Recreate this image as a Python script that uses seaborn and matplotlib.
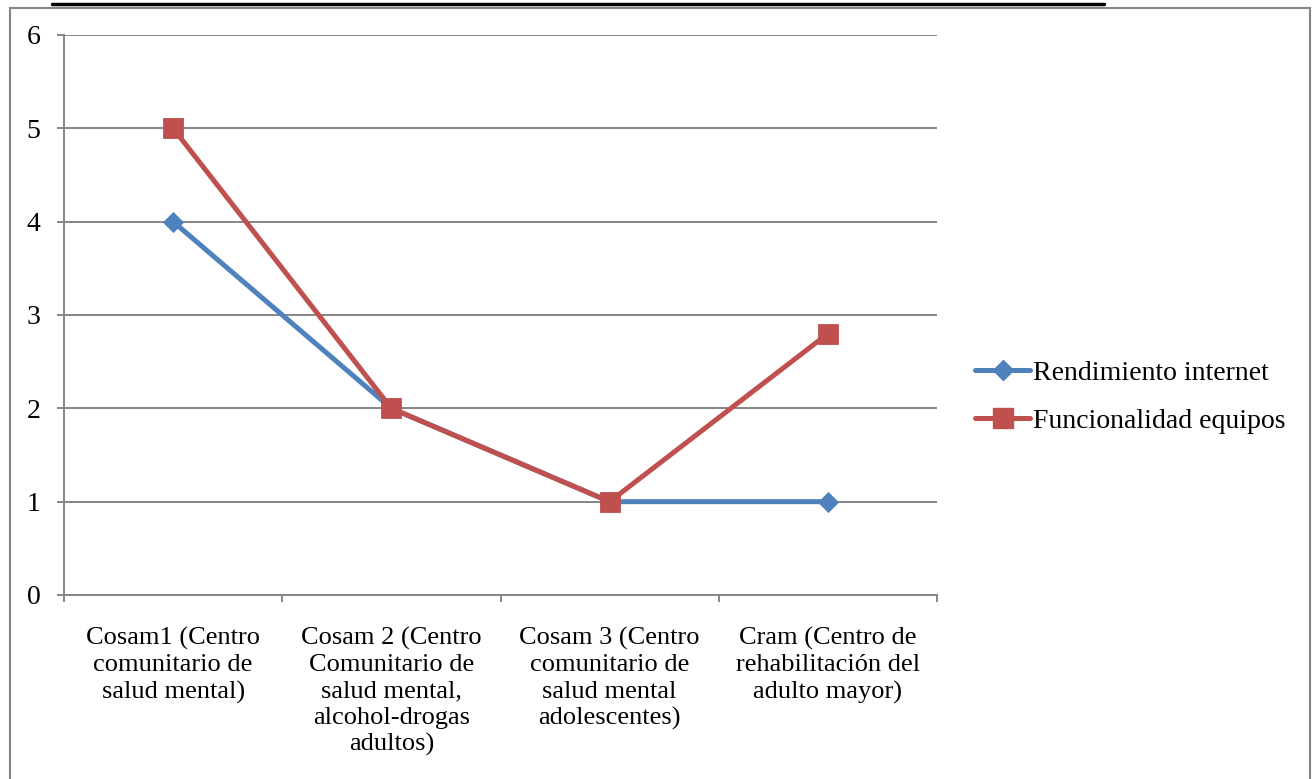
import matplotlib
matplotlib.use("Agg")
import matplotlib.pyplot as plt
from matplotlib.lines import Line2D
from matplotlib.patches import Rectangle
import seaborn as sns
import pandas as pd

categories = [
    "Cosam1 (Centro\ncomunitario de\nsalud mental)",
    "Cosam 2 (Centro\nComunitario de\nsalud mental,\nalcohol-drogas\nadultos)",
    "Cosam 3 (Centro\ncomunitario de\nsalud mental\nadolescentes)",
    "Cram (Centro de\nrehabilitación del\nadulto mayor)",
]
rendimiento_internet = [4, 2, 1, 1]
funcionalidad_equipos = [5, 2, 1, 2.8]
series_names = ["Rendimiento internet", "Funcionalidad equipos"]
y_ticks = [0, 1, 2, 3, 4, 5, 6]

blue = "#4F81BD"
red = "#C0504D"
grid_gray = "#868686"

sns.set_theme(style="white")
plt.rcParams["font.family"] = ["Liberation Serif", "DejaVu Serif"]
plt.rcParams["text.color"] = "black"

df = pd.DataFrame({
    "pos": list(range(len(categories))) * 2,
    "valor": rendimiento_internet + funcionalidad_equipos,
    "serie": [series_names[0]] * len(categories) + [series_names[1]] * len(categories),
})

fig = plt.figure(figsize=(13.14, 7.79), dpi=100)
ax = fig.add_axes([64 / 1314, 1 - 595 / 779, (937 - 64) / 1314, (595 - 35) / 779])

sns.lineplot(
    data=df, x="pos", y="valor", hue="serie", style="serie",
    palette={series_names[0]: blue, series_names[1]: red},
    markers={series_names[0]: "D", series_names[1]: "s"},
    dashes=False, linewidth=3.6, ax=ax, legend=False,
)
# marker sizes per series
for line, ms in zip(ax.lines, [9.7, 14]):
    line.set_markersize(ms)
    line.set_markeredgewidth(0.6)
    line.set_markeredgecolor(line.get_color())

ax.set_xlim(-0.5, len(categories) - 0.5)
ax.set_ylim(0, 6)
ax.set_yticks(y_ticks)
ax.set_yticklabels([str(t) for t in y_ticks])
ax.set_xticks(range(len(categories)))
ax.set_xticklabels(categories, linespacing=1.25)
ax.set_xticks([i - 0.5 for i in range(len(categories) + 1)], minor=True)
ax.set_xlabel("")
ax.set_ylabel("")

ax.yaxis.grid(True, color=grid_gray, linewidth=1.4)
ax.xaxis.grid(False)
ax.set_axisbelow(True)
for side in ["top", "right"]:
    ax.spines[side].set_visible(False)
for side in ["left", "bottom"]:
    ax.spines[side].set_color(grid_gray)
    ax.spines[side].set_linewidth(1.4)

ax.tick_params(axis="x", which="major", bottom=True, length=0, pad=23,
               labelsize=19, colors="black")
ax.tick_params(axis="x", which="minor", bottom=True, length=5, width=1.4,
               color=grid_gray, direction="out")
ax.tick_params(axis="y", left=True, length=5, width=1.4, color=grid_gray,
               direction="out", pad=12, labelsize=20, labelcolor="black")

handles = [
    Line2D([], [], color=blue, lw=3.6, marker="D", markersize=9.7, markeredgecolor=blue),
    Line2D([], [], color=red, lw=3.6, marker="s", markersize=14, markeredgecolor=red),
]
fig.legend(handles, series_names, loc="center left",
           bbox_to_anchor=(975 / 1314, 1 - 397 / 779), frameon=False,
           fontsize=20, handlelength=1.98, handletextpad=0.12, labelspacing=0.8,
           borderpad=0, borderaxespad=0, labelcolor="black")

# chart frame and heading underline
fig.add_artist(Rectangle((10 / 1314, -0.05), 1300 / 1314, 1.05 - 8 / 779,
                         transform=fig.transFigure, fill=False,
                         edgecolor=grid_gray, linewidth=1.5))
fig.add_artist(Line2D([52 / 1314, 1104 / 1314], [1 - 4 / 779, 1 - 4 / 779],
                      transform=fig.transFigure, color="black", linewidth=2.5))

fig.savefig("out.png", dpi=100, facecolor="white")
